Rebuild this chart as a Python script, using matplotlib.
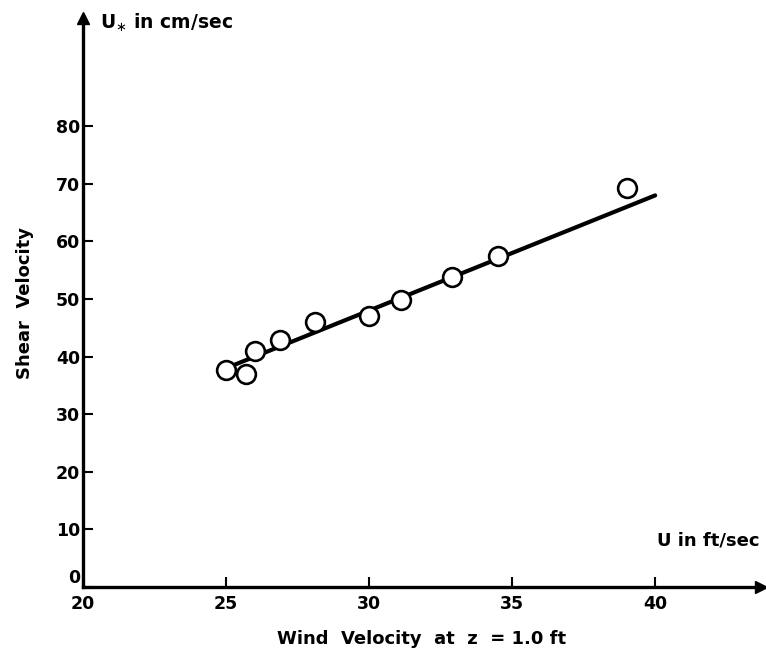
import matplotlib
matplotlib.use('Agg')
import matplotlib.pyplot as plt

# Wind velocity U (ft/sec) vs shear velocity U* (cm/sec)
wind_u = [25.0, 25.7, 26.0, 26.9, 28.1, 30.0, 31.1, 32.9, 34.5, 39.0]
shear_u = [37.7, 37.0, 40.9, 42.9, 46.0, 47.0, 49.8, 53.8, 57.4, 69.3]

# fitted straight line, end points
fit_x = [25.3, 40.0]
fit_y = [38.6, 68.0]

x_ticks = [20, 25, 30, 35, 40]
y_ticks = [0, 10, 20, 30, 40, 50, 60, 70, 80]

plt.rcParams['font.family'] = ['DejaVu Sans']

fig = plt.figure(figsize=(7.66, 6.58), dpi=100)
ax = fig.add_axes([0.1084, 0.1079, 0.8851, 0.8647])

ax.plot(fit_x, fit_y, color='black', lw=3, solid_capstyle='round', zorder=2)
ax.plot(wind_u, shear_u, 'o', ms=13.5, mfc='white', mec='black', mew=1.9,
        zorder=3, clip_on=False)

ax.set_xlim(20, 43.7)
ax.set_ylim(0, 98.8)

for side in ['top', 'right']:
    ax.spines[side].set_visible(False)
for side in ['left', 'bottom']:
    ax.spines[side].set_linewidth(2.4)

# arrow heads at the ends of the axes
ax.plot(1, 0, '>', color='black', ms=9, transform=ax.transAxes, clip_on=False)
ax.plot(0, 1, '^', color='black', ms=9, transform=ax.transAxes, clip_on=False)

ax.set_xticks(x_ticks)
ax.set_yticks(y_ticks)
ax.tick_params(axis='both', direction='in', length=7, width=1.5,
               labelsize=12.5)
ax.tick_params(axis='y', pad=2)
ax.tick_params(axis='x', pad=6)
for lab in ax.get_xticklabels() + ax.get_yticklabels():
    lab.set_fontweight('bold')
# the "0" sits a little above the x axis, clear of the "20"
ax.get_yticklabels()[0].set_verticalalignment('bottom')

ax.set_xlabel('Wind  Velocity  at  z  = 1.0 ft', fontsize=13,
              fontweight='bold', labelpad=12)
ax.set_ylabel('Shear  Velocity', fontsize=13, fontweight='bold', labelpad=16)

fig.text(0.131, 0.966, r'U$_{\ast}$ in cm/sec', fontsize=13.5,
         fontweight='bold', va='center', ha='left')
fig.text(0.992, 0.178, 'U in ft/sec', fontsize=13, fontweight='bold',
         va='center', ha='right')

fig.savefig('out.png', dpi=100, facecolor='white')
